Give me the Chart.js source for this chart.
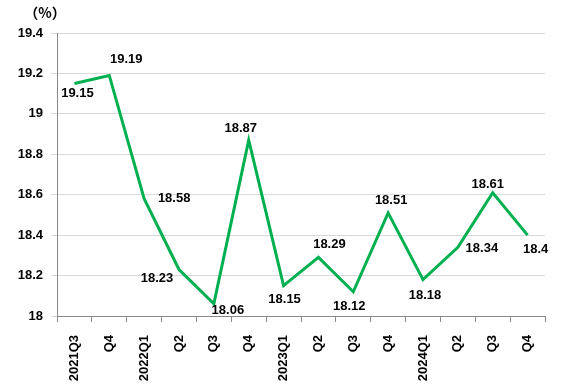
<!DOCTYPE html>
<html>
<head>
<meta charset="utf-8">
<script src="https://cdn.jsdelivr.net/npm/chart.js@4/dist/chart.umd.min.js"></script>
<style>
  html, body { margin: 0; padding: 0; background: #fff; }
  #wrap { width: 564px; height: 384px; }
</style>
</head>
<body>
<div id="wrap"><canvas id="c" width="564" height="384"></canvas></div>
<script>
const categories = ['2021Q3','Q4','2022Q1','Q2','Q3','Q4','2023Q1','Q2','Q3','Q4','2024Q1','Q2','Q3','Q4'];
const rates = [19.15, 19.19, 18.58, 18.23, 18.06, 18.87, 18.15, 18.29, 18.12, 18.51, 18.18, 18.34, 18.61, 18.4];
const unitLabel = '（%）';

// label placement relative to each point (layout only)
const labelOffsets = [[3,10],[17,-16],[30,0],[-22,9],[14,7],[-8,-12],[1,14],[11,-13],[-4,15],[3,-12],[2,16],[24,1],[-5,-8],[8,14]];

const FONT = '"Liberation Sans", Arial, sans-serif';

const labelPlugin = {
  id: 'valueLabels',
  afterDatasetsDraw(chart) {
    const ctx = chart.ctx;
    const meta = chart.getDatasetMeta(0);
    ctx.save();
    ctx.font = 'bold 13px ' + FONT;
    ctx.fillStyle = '#000';
    ctx.textAlign = 'center';
    ctx.textBaseline = 'middle';
    meta.data.forEach((pt, i) => {
      const o = labelOffsets[i];
      ctx.fillText(String(rates[i]), pt.x + o[0], pt.y + o[1]);
    });
    ctx.restore();
  },
  afterDraw(chart) {
    const ctx = chart.ctx;
    const a = chart.chartArea;
    ctx.save();
    ctx.font = 'bold 14px "Noto Sans CJK SC", ' + FONT;
    ctx.fillStyle = '#000';
    ctx.textAlign = 'center';
    ctx.textBaseline = 'middle';
    ctx.fillText(unitLabel, a.left - 12, a.top - 20);
    ctx.restore();
  }
};

new Chart(document.getElementById('c'), {
  type: 'line',
  data: {
    labels: categories,
    datasets: [{
      data: rates,
      borderColor: '#00B050',
      borderWidth: 3,
      pointRadius: 0,
      tension: 0,
      fill: false
    }]
  },
  options: {
    responsive: false,
    animation: false,
    devicePixelRatio: 1,
    layout: { padding: { top: 33, right: 19, left: 0, bottom: 0 } },
    plugins: { legend: { display: false }, tooltip: { enabled: false } },
    scales: {
      x: {
        type: 'category',
        offset: true,
        grid: { offset: true, drawOnChartArea: false, drawTicks: true, tickLength: 6, color: '#898989' },
        border: { color: '#898989', width: 1 },
        ticks: { autoSkip: false, minRotation: 90, maxRotation: 90, padding: 13, color: '#000', font: { family: FONT, size: 13, weight: 'bold' } },
        afterFit(scale) { scale.height = 68; }
      },
      y: {
        min: 18,
        max: 19.4,
        ticks: {
          stepSize: 0.2, padding: 8, color: '#000',
          font: { family: FONT, size: 13, weight: 'bold' },
          callback: (v) => String(parseFloat(Number(v).toFixed(1)))
        },
        grid: { color: '#D9D9D9', tickLength: 6, lineWidth: 1 },
        border: { color: '#898989', width: 1 },
        afterFit(scale) { scale.width = 57; }
      }
    }
  },
  plugins: [labelPlugin]
});
</script>
</body>
</html>
